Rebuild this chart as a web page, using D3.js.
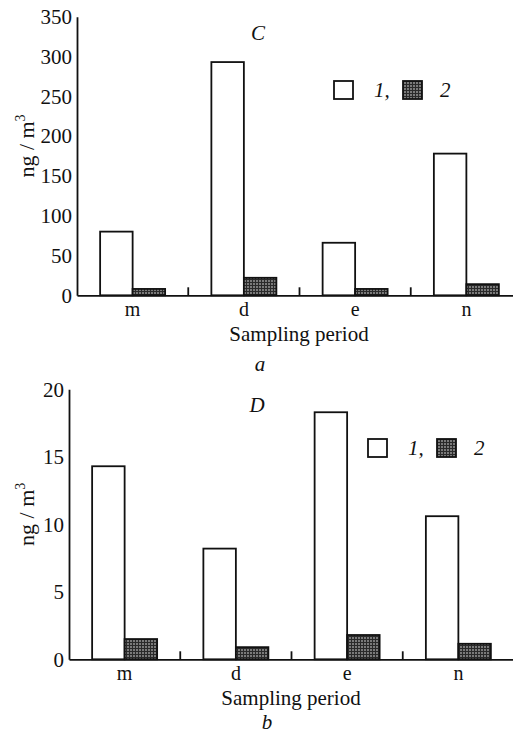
<!DOCTYPE html>
<html>
<head>
<meta charset="utf-8">
<script src="https://cdn.jsdelivr.net/npm/d3@7"></script>
<style>
  body { margin: 0; background: #fff; }
  svg { display: block; }
  svg text { font-family: "Liberation Serif", "Tinos", "DejaVu Serif", "Times New Roman", serif !important; fill: #111; }
</style>
</head>
<body>
<script>
// sampling periods (morning, day, evening, night)
const periods = ["m", "d", "e", "n"];

// panel a (C)
const cSeries1 = [80, 293, 66, 178];
const cSeries2 = [8, 22, 8, 14];
const cTicks = [0, 50, 100, 150, 200, 250, 300, 350];

// panel b (D)
const dSeries1 = [14.3, 8.2, 18.3, 10.6];
const dSeries2 = [1.5, 0.9, 1.8, 1.15];
const dTicks = [0, 5, 10, 15, 20];

const svg = d3.select("body").append("svg")
  .attr("width", 513)
  .attr("height", 733);

// grid-ish dark fill for series 2
const defs = svg.append("defs");
const pat = defs.append("pattern")
  .attr("id", "dots")
  .attr("width", 3).attr("height", 3)
  .attr("patternUnits", "userSpaceOnUse");
pat.append("rect").attr("width", 3).attr("height", 3).attr("fill", "#7a7a7a");
pat.append("rect").attr("width", 3).attr("height", 1).attr("fill", "#2a2a2a");
pat.append("rect").attr("width", 1).attr("height", 3).attr("fill", "#2a2a2a");

function panel(opt) {
  const g = svg.append("g");
  const x = d3.scaleBand().domain(periods).range([opt.left, opt.left + 445]);
  const y = d3.scaleLinear().domain([0, opt.max]).range([opt.bottom, opt.top]);
  const bw = 32.5;
  const sw = 1.8;

  // bars
  g.selectAll(".b1").data(opt.s1).enter().append("rect")
    .attr("x", (d, i) => x(periods[i]) + x.bandwidth() / 2 - bw)
    .attr("y", d => y(d))
    .attr("width", bw)
    .attr("height", d => y(0) - y(d))
    .attr("fill", "#fff").attr("stroke", "#111").attr("stroke-width", sw);

  g.selectAll(".b2").data(opt.s2).enter().append("rect")
    .attr("x", (d, i) => x(periods[i]) + x.bandwidth() / 2)
    .attr("y", d => y(d))
    .attr("width", bw)
    .attr("height", d => y(0) - y(d))
    .attr("fill", "url(#dots)").attr("stroke", "#111").attr("stroke-width", sw);

  // y axis
  const ya = g.append("g")
    .attr("transform", `translate(${opt.left},0)`)
    .call(d3.axisLeft(y).tickValues(opt.ticks).tickSize(0).tickPadding(5));
  ya.select(".domain").attr("stroke", "#111").attr("stroke-width", sw);
  ya.selectAll("text").attr("font-size", 21).attr("fill", "#111");

  // x axis
  const xa = g.append("g")
    .attr("transform", `translate(0,${opt.bottom})`)
    .call(d3.axisBottom(x).tickSize(0).tickPadding(7));
  xa.select(".domain").attr("stroke", "#111").attr("stroke-width", sw);
  xa.selectAll("text").attr("font-size", 20).attr("fill", "#111");

  // separator ticks between groups, pointing up
  g.selectAll(".sep").data(periods.slice(1)).enter().append("line")
    .attr("x1", d => x(d)).attr("x2", d => x(d))
    .attr("y1", opt.bottom).attr("y2", opt.bottom - 8)
    .attr("stroke", "#111").attr("stroke-width", sw);

  // panel title
  g.append("text")
    .attr("x", opt.titleX).attr("y", opt.top + 23)
    .attr("text-anchor", "middle").attr("font-size", 21).attr("font-style", "italic")
    .text(opt.title);

  // legend
  const lg = g.append("g").attr("transform", `translate(${opt.legX},${opt.legY})`);
  lg.append("rect").attr("width", 19).attr("height", 18)
    .attr("fill", "#fff").attr("stroke", "#111").attr("stroke-width", sw);
  lg.append("text").attr("x", 40).attr("y", 16).attr("font-size", 21)
    .attr("font-style", "italic").text("1,");
  lg.append("rect").attr("x", 69).attr("width", 19).attr("height", 18)
    .attr("fill", "url(#dots)").attr("stroke", "#111").attr("stroke-width", sw);
  lg.append("text").attr("x", 106).attr("y", 16).attr("font-size", 21)
    .attr("font-style", "italic").text("2");

  // y label
  const yl = g.append("text")
    .attr("transform", `translate(34,${(opt.top + opt.bottom) / 2 - 10}) rotate(-90)`)
    .attr("text-anchor", "middle").attr("font-size", 22);
  yl.append("tspan").text("ng / m");
  yl.append("tspan").attr("dy", -9).attr("font-size", 14).text("3");

  // x label
  g.append("text")
    .attr("x", opt.left + 222).attr("y", opt.bottom + 46)
    .attr("text-anchor", "middle").attr("font-size", 21)
    .text("Sampling period");

  // sub caption
  g.append("text")
    .attr("x", opt.capX).attr("y", opt.capY)
    .attr("text-anchor", "middle").attr("font-size", 21).attr("font-style", "italic")
    .text(opt.caption);
}

panel({ s1: cSeries1, s2: cSeries2, ticks: cTicks, max: 350,
  left: 77, top: 16.7, bottom: 295.3, title: "C", titleX: 258,
  legX: 334, legY: 81, caption: "a", capX: 260, capY: 371 });

panel({ s1: dSeries1, s2: dSeries2, ticks: dTicks, max: 20,
  left: 69, top: 389.3, bottom: 659.3, title: "D", titleX: 257,
  legX: 368, legY: 439, caption: "b", capX: 267, capY: 729 });
</script>
</body>
</html>
